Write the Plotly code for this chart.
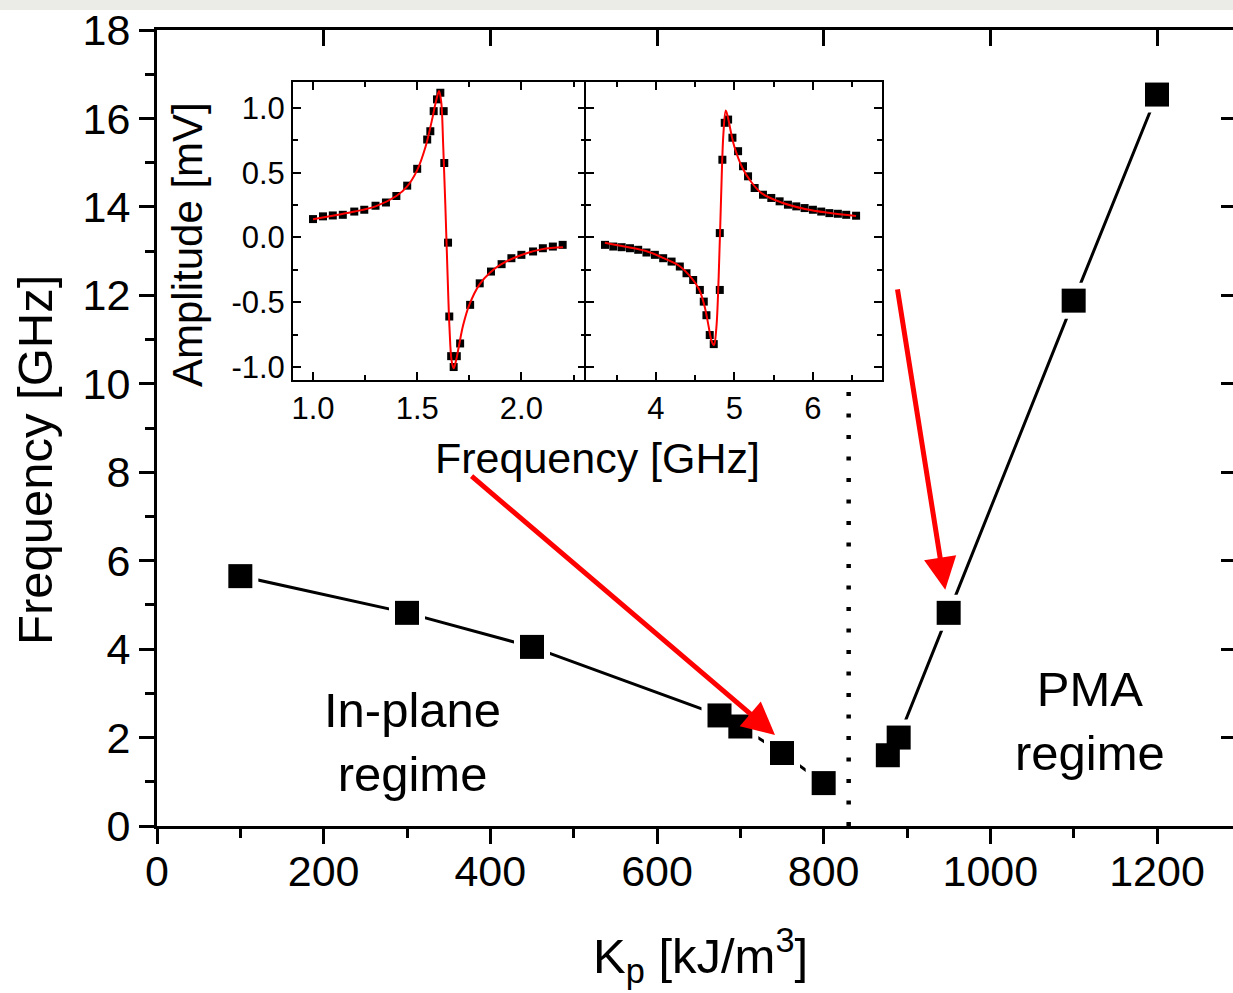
import plotly.graph_objects as go

# ---------------- data ----------------
kp_inplane = [100, 300, 450, 675, 700, 750, 800]
f_inplane = [5.65, 4.82, 4.05, 2.50, 2.25, 1.65, 0.97]
kp_pma = [877, 890, 950, 1100, 1200]
f_pma = [1.60, 2.00, 4.82, 11.88, 16.54]

x_ticks = [0, 200, 400, 600, 800, 1000, 1200]
y_ticks = [0, 2, 4, 6, 8, 10, 12, 14, 16, 18]
boundary_kp = [830, 830]
boundary_f = [0, 10]

# inset, left panel (in-plane)
inA_f = [1.000, 1.048, 1.095, 1.143, 1.198, 1.246, 1.300, 1.350, 1.400, 1.452, 1.500,
         1.548, 1.563, 1.579, 1.595, 1.611, 1.627, 1.630, 1.648, 1.654, 1.663, 1.675,
         1.690, 1.706, 1.754, 1.800, 1.854, 1.905, 1.952, 2.000, 2.056, 2.103, 2.151, 2.198]
inA_amp = [0.142, 0.163, 0.170, 0.175, 0.200, 0.214, 0.245, 0.270, 0.320, 0.400, 0.530,
           0.756, 0.820, 0.975, 1.066, 1.117, 0.975, 0.575, -0.040, -0.610, -0.916, -1.000,
           -0.916, -0.818, -0.520, -0.354, -0.263, -0.206, -0.160, -0.134, -0.108, -0.083, -0.070, -0.057]
fitA_f = [1.00, 1.10, 1.20, 1.30, 1.40, 1.45, 1.50, 1.54, 1.57, 1.59, 1.605, 1.615, 1.625,
          1.635, 1.645, 1.655, 1.665, 1.675, 1.685, 1.70, 1.72, 1.75, 1.80, 1.85, 1.90,
          2.00, 2.10, 2.20]
fitA_amp = [0.14, 0.17, 0.20, 0.24, 0.32, 0.39, 0.52, 0.70, 0.90, 1.05, 1.13, 1.05, 0.70,
            0.25, -0.25, -0.70, -0.95, -1.01, -0.96, -0.84, -0.68, -0.52, -0.36, -0.27, -0.21,
            -0.135, -0.09, -0.075]

# inset, right panel (PMA)
inB_f = [3.352, 3.458, 3.564, 3.670, 3.775, 3.880, 3.987, 4.093, 4.200, 4.305, 4.390,
         4.475, 4.560, 4.610, 4.644, 4.686, 4.737, 4.814, 4.814, 4.847, 4.877, 4.920,
         4.975, 5.047, 5.110, 5.174, 5.258, 5.364, 5.470, 5.576, 5.682, 5.788, 5.894,
         6.000, 6.106, 6.210, 6.318, 6.424, 6.550]
inB_amp = [-0.057, -0.070, -0.075, -0.083, -0.095, -0.116, -0.134, -0.160, -0.186, -0.224,
           -0.276, -0.328, -0.405, -0.495, -0.600, -0.753, -0.823, -0.405, 0.034, 0.600,
           0.885, 0.910, 0.770, 0.666, 0.550, 0.472, 0.382, 0.330, 0.305, 0.279, 0.253,
           0.240, 0.227, 0.214, 0.200, 0.188, 0.183, 0.175, 0.168]
fitB_f = [3.35, 3.60, 3.90, 4.10, 4.30, 4.45, 4.55, 4.62, 4.67, 4.71, 4.74, 4.77, 4.80,
          4.83, 4.86, 4.89, 4.92, 4.96, 5.00, 5.10, 5.20, 5.35, 5.60, 5.90, 6.20, 6.55]
fitB_amp = [-0.04, -0.07, -0.11, -0.16, -0.22, -0.31, -0.40, -0.53, -0.68, -0.80, -0.83,
            -0.70, -0.30, 0.30, 0.80, 0.98, 0.92, 0.80, 0.70, 0.54, 0.44, 0.34, 0.27, 0.22,
            0.19, 0.165]

FONT = "Arial, 'Liberation Sans', sans-serif"
BLACK = "#000000"
RED = "#ff0000"

fig = go.Figure()

# main series: white halo markers (create line gaps), then black markers
for xs, ys in [(kp_inplane, f_inplane), (kp_pma, f_pma)]:
    fig.add_trace(go.Scatter(x=xs, y=ys, mode="lines+markers",
                             line=dict(color=BLACK, width=3),
                             marker=dict(symbol="square", size=36, color="white"),
                             hoverinfo="skip", showlegend=False))
for xs, ys in [(kp_inplane, f_inplane), (kp_pma, f_pma)]:
    fig.add_trace(go.Scatter(x=xs, y=ys, mode="markers",
                             marker=dict(symbol="square", size=24, color=BLACK),
                             showlegend=False))

# boundary dotted line
fig.add_trace(go.Scatter(x=boundary_kp, y=boundary_f, mode="lines",
                         line=dict(color=BLACK, width=4.5, dash="4px,17.5px"),
                         hoverinfo="skip", showlegend=False))

# dummy trace for top/right mirror axes
fig.add_trace(go.Scatter(x=[0], y=[0], xaxis="x2", yaxis="y2", mode="markers",
                         marker=dict(opacity=0), hoverinfo="skip", showlegend=False))

# inset traces
fig.add_trace(go.Scatter(x=inA_f, y=inA_amp, xaxis="x3", yaxis="y3", mode="markers",
                         marker=dict(symbol="square", size=8, color=BLACK), showlegend=False))
fig.add_trace(go.Scatter(x=fitA_f, y=fitA_amp, xaxis="x3", yaxis="y3", mode="lines",
                         line=dict(color=RED, width=2, shape="spline"), showlegend=False))
fig.add_trace(go.Scatter(x=inB_f, y=inB_amp, xaxis="x4", yaxis="y4", mode="markers",
                         marker=dict(symbol="square", size=8, color=BLACK), showlegend=False))
fig.add_trace(go.Scatter(x=fitB_f, y=fitB_amp, xaxis="x4", yaxis="y4", mode="lines",
                         line=dict(color=RED, width=2, shape="spline"), showlegend=False))

W, H = 1233, 993
L, T, R, B = 157, 30, 0, 167
PW, PH = W - L - R, H - T - B


def px(xp):
    return (xp - L) / PW


def py(yp):
    return (H - B - yp) / PH


xrange_main = [0, 1291.2]

main_tick_font = dict(family=FONT, size=43, color=BLACK)
inset_tick_font = dict(family=FONT, size=31, color=BLACK)

fig.update_layout(
    width=W, height=H,
    margin=dict(l=L, r=R, t=T, b=B),
    paper_bgcolor="white", plot_bgcolor="white",
    showlegend=False,
    xaxis=dict(range=xrange_main, tickvals=x_ticks, ticks="outside", ticklen=15,
               tickwidth=3, tickcolor=BLACK, showline=True, linewidth=3, linecolor=BLACK,
               showgrid=False, zeroline=False, tickfont=main_tick_font,
               ticklabelstandoff=-10,
               minor=dict(dtick=100, tick0=0, ticks="outside", ticklen=9, tickwidth=3,
                          tickcolor=BLACK, showgrid=False)),
    yaxis=dict(range=[0, 18], tickvals=y_ticks, ticks="outside", ticklen=15,
               tickwidth=3, tickcolor=BLACK, showline=True, linewidth=3, linecolor=BLACK,
               showgrid=False, zeroline=False, tickfont=main_tick_font,
               minor=dict(dtick=1, tick0=0, ticks="outside", ticklen=9, tickwidth=3,
                          tickcolor=BLACK, showgrid=False)),
    xaxis2=dict(overlaying="x", side="top", anchor="y2", range=xrange_main,
                tickvals=x_ticks, ticks="inside", ticklen=16, tickwidth=3, tickcolor=BLACK,
                showticklabels=False, showline=True, linewidth=3, linecolor=BLACK,
                showgrid=False, zeroline=False),
    yaxis2=dict(overlaying="y", side="right", anchor="x2", range=[0, 18],
                tickvals=y_ticks, ticks="inside", ticklen=12, tickwidth=3, tickcolor=BLACK,
                showticklabels=False, showline=False, showgrid=False, zeroline=False),
    xaxis3=dict(domain=[px(293), px(586)], anchor="y3", range=[0.904, 2.31],
                tickvals=[1.0, 1.5, 2.0], ticktext=["1.0", "1.5", "2.0"],
                ticks="inside", ticklen=8, tickwidth=2, tickcolor=BLACK,
                showline=True, linewidth=2, linecolor=BLACK, mirror="ticks",
                showgrid=False, zeroline=False, tickfont=inset_tick_font,
                minor=dict(dtick=0.25, tick0=1.0, ticks="inside", ticklen=5, tickwidth=2,
                           tickcolor=BLACK, showgrid=False)),
    yaxis3=dict(domain=[py(380), py(82)], anchor="x3", range=[-1.1, 1.2],
                tickvals=[-1.0, -0.5, 0.0, 0.5, 1.0],
                ticktext=["-1.0", "-0.5", "0.0", "0.5", "1.0"],
                ticks="inside", ticklen=8, tickwidth=2, tickcolor=BLACK,
                showline=True, linewidth=2, linecolor=BLACK, mirror="ticks",
                showgrid=False, zeroline=False, tickfont=inset_tick_font,
                minor=dict(dtick=0.25, tick0=0, ticks="inside", ticklen=5, tickwidth=2,
                           tickcolor=BLACK, showgrid=False)),
    xaxis4=dict(domain=[px(586), px(882)], anchor="y4", range=[3.11, 6.88],
                tickvals=[4, 5, 6], ticks="inside", ticklen=8, tickwidth=2, tickcolor=BLACK,
                showline=True, linewidth=2, linecolor=BLACK, mirror="ticks",
                showgrid=False, zeroline=False, tickfont=inset_tick_font,
                minor=dict(dtick=0.5, tick0=4, ticks="inside", ticklen=5, tickwidth=2,
                           tickcolor=BLACK, showgrid=False)),
    yaxis4=dict(domain=[py(380), py(82)], anchor="x4", range=[-1.1, 1.2],
                tickvals=[-1.0, -0.5, 0.0, 0.5, 1.0], showticklabels=False,
                ticks="inside", ticklen=8, tickwidth=2, tickcolor=BLACK,
                showline=True, linewidth=2, linecolor=BLACK, mirror="ticks",
                showgrid=False, zeroline=False,
                minor=dict(dtick=0.25, tick0=0, ticks="inside", ticklen=5, tickwidth=2,
                           tickcolor=BLACK, showgrid=False)),
)

# gray band at the very top (page header)
fig.add_shape(type="rect", xref="paper", yref="paper", x0=px(0), x1=px(W), y0=py(10), y1=py(0),
              fillcolor="#ebebe8", line=dict(width=0), layer="below")

# arrows
fig.add_annotation(x=741.6, y=2.06, ax=375.7, ay=7.94, xref="x", yref="y", axref="x", ayref="y",
                   text="", showarrow=True, arrowhead=2, arrowsize=1.3, arrowwidth=5,
                   arrowcolor=RED)
fig.add_annotation(x=945.9, y=5.34, ax=888.3, ay=12.17, xref="x", yref="y", axref="x", ayref="y",
                   text="", showarrow=True, arrowhead=2, arrowsize=1.3, arrowwidth=5,
                   arrowcolor=RED)

# region labels
fig.add_annotation(x=307, y=1.9, xref="x", yref="y", text="In-plane<br>regime", showarrow=False,
                   xanchor="center", yanchor="middle",
                   font=dict(family=FONT, size=49, color=BLACK), align="center")
fig.add_annotation(x=1119.6, y=2.37, xref="x", yref="y", text="PMA<br>regime", showarrow=False,
                   xanchor="center", yanchor="middle",
                   font=dict(family=FONT, size=49, color=BLACK), align="center")

# axis titles
fig.add_annotation(x=px(35), y=py(460), xref="paper", yref="paper", text="Frequency [GHz]",
                   textangle=-90, showarrow=False, xanchor="center", yanchor="middle",
                   font=dict(family=FONT, size=49, color=BLACK))
fig.add_annotation(x=px(700), y=py(955), xref="paper", yref="paper",
                   text="K<sub>p</sub> [kJ/m<sup>3</sup>]", showarrow=False,
                   xanchor="center", yanchor="middle",
                   font=dict(family=FONT, size=49, color=BLACK))
fig.add_annotation(x=px(188), y=py(245), xref="paper", yref="paper", text="Amplitude [mV]",
                   textangle=-90, showarrow=False, xanchor="center", yanchor="middle",
                   font=dict(family=FONT, size=42, color=BLACK))
fig.add_annotation(x=px(597), y=py(458), xref="paper", yref="paper", text="Frequency [GHz]",
                   showarrow=False, xanchor="center", yanchor="middle",
                   font=dict(family=FONT, size=43, color=BLACK))

fig.write_html("out.html")
